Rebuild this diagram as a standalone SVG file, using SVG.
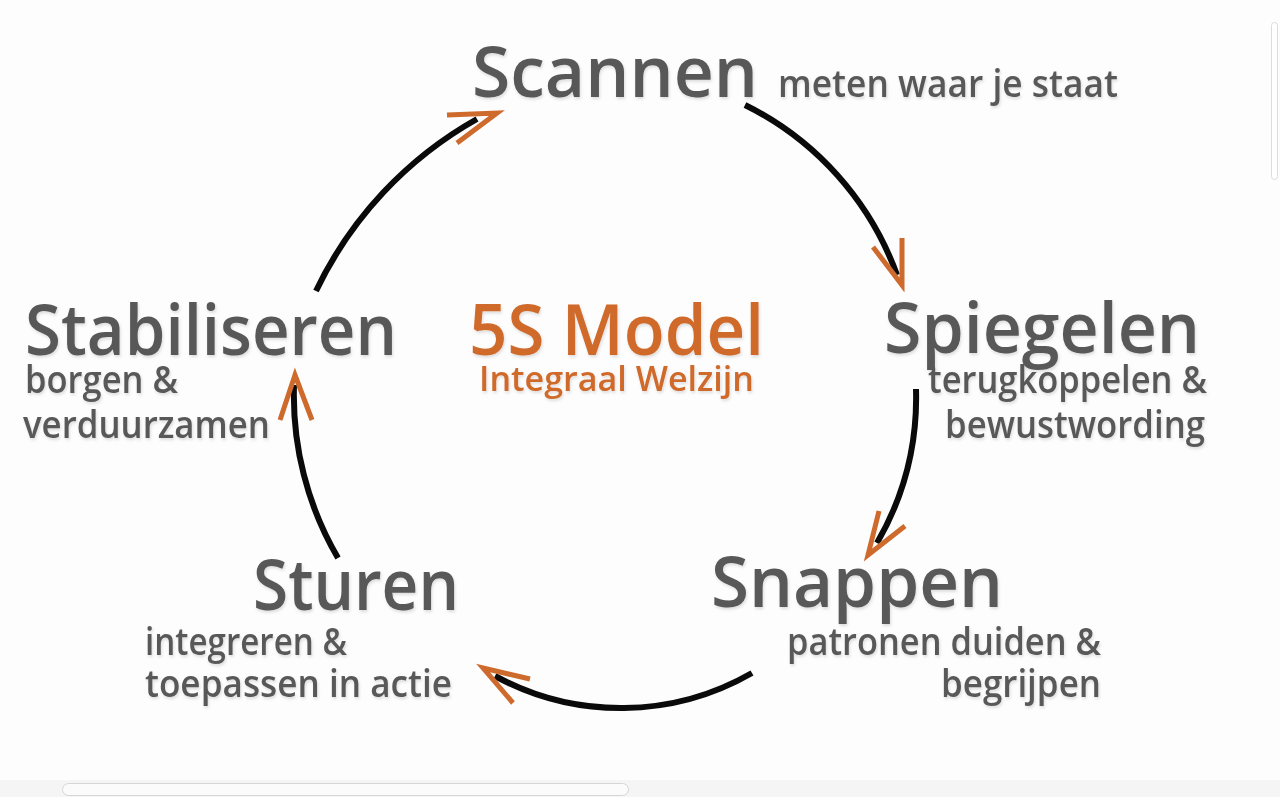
<svg xmlns="http://www.w3.org/2000/svg" width="1280" height="797" viewBox="0 0 1280 797">
  <defs>
    <filter id="sh" x="-5%" y="-20%" width="110%" height="140%">
      <feDropShadow dx="1" dy="2" stdDeviation="1.5" flood-color="#000" flood-opacity="0.13"/>
    </filter>
    <style>
      .t { font-family: "Open Sans", "Noto Sans", "Liberation Sans", sans-serif; font-weight: 600; fill: #595959; filter: url(#sh); }
      .big { font-size: 70px; }
      .sub { font-size: 37px; font-weight: 600; }
      .or { fill: #cf6a2b; }
      .arc { fill: none; stroke: #0a0a0a; stroke-width: 6; stroke-linecap: butt; }
      .head { fill: none; stroke: #cd6a2c; stroke-width: 5; stroke-linejoin: miter; stroke-linecap: butt; }
    </style>
  </defs>
  <rect width="1280" height="797" fill="#fdfdfd"/>

  <g id="connectors">
    <path class="arc" d="M316,291 A390,390 0 0 1 477,119"/>
    <polyline class="head" points="447,115 497,113 457,143"/>
    <path class="arc" d="M745,105 A306,306 0 0 1 897,275"/>
    <polyline class="head" points="873,247 902,285 902,238"/>
    <path class="arc" d="M916,389 A290,290 0 0 1 877,543"/>
    <polyline class="head" points="879,511 868,555 905,526"/>
    <path class="arc" d="M752,673 A263,263 0 0 1 495,676"/>
    <polyline class="head" points="530,679 483,668 513,703"/>
    <path class="arc" d="M338,558 A322,322 0 0 1 294,385"/>
    <polyline class="head" points="280,420 295,375 312,420"/>
  </g>

  <g id="center">
    <text class="t big or" x="469" y="355" textLength="295" lengthAdjust="spacingAndGlyphs">5S Model</text>
    <text class="t sub or" x="479" y="391" textLength="275" lengthAdjust="spacingAndGlyphs" style="font-size:34px">Integraal Welzijn</text>
  </g>

  <g id="scannen">
    <text class="t big" x="472" y="97" textLength="286" lengthAdjust="spacingAndGlyphs">Scannen</text>
    <text class="t sub" x="778" y="97" textLength="340" lengthAdjust="spacingAndGlyphs">meten waar je staat</text>
  </g>

  <g id="spiegelen">
    <text class="t big" x="884" y="353" textLength="316" lengthAdjust="spacingAndGlyphs">Spiegelen</text>
    <text class="t sub" x="928" y="393" textLength="279" lengthAdjust="spacingAndGlyphs">terugkoppelen &amp;</text>
    <text class="t sub" x="945" y="438" textLength="260" lengthAdjust="spacingAndGlyphs">bewustwording</text>
  </g>

  <g id="snappen">
    <text class="t big" x="711" y="607" textLength="292" lengthAdjust="spacingAndGlyphs">Snappen</text>
    <text class="t sub" x="787" y="655" textLength="314" lengthAdjust="spacingAndGlyphs">patronen duiden &amp;</text>
    <text class="t sub" x="941" y="697" textLength="160" lengthAdjust="spacingAndGlyphs">begrijpen</text>
  </g>

  <g id="sturen">
    <text class="t big" x="253" y="610" textLength="206" lengthAdjust="spacingAndGlyphs">Sturen</text>
    <text class="t sub" x="145" y="655" textLength="202" lengthAdjust="spacingAndGlyphs">integreren &amp;</text>
    <text class="t sub" x="145" y="697" textLength="307" lengthAdjust="spacingAndGlyphs">toepassen in actie</text>
  </g>

  <g id="stabiliseren">
    <text class="t big" x="25" y="355" textLength="372" lengthAdjust="spacingAndGlyphs">Stabiliseren</text>
    <text class="t sub" x="25" y="393" textLength="153" lengthAdjust="spacingAndGlyphs">borgen &amp;</text>
    <text class="t sub" x="23" y="438" textLength="247" lengthAdjust="spacingAndGlyphs">verduurzamen</text>
  </g>

  <g id="scrollbars">
    <rect x="0" y="780" width="1280" height="17" fill="#f5f5f5"/>
    <rect x="62.5" y="783.5" width="566" height="12" rx="6" fill="#fbfbfb" stroke="#d6d6d6"/>
    <rect x="1271.5" y="22.5" width="6" height="157" rx="3" fill="#ffffff" stroke="#dcdcdc"/>
  </g>
</svg>
